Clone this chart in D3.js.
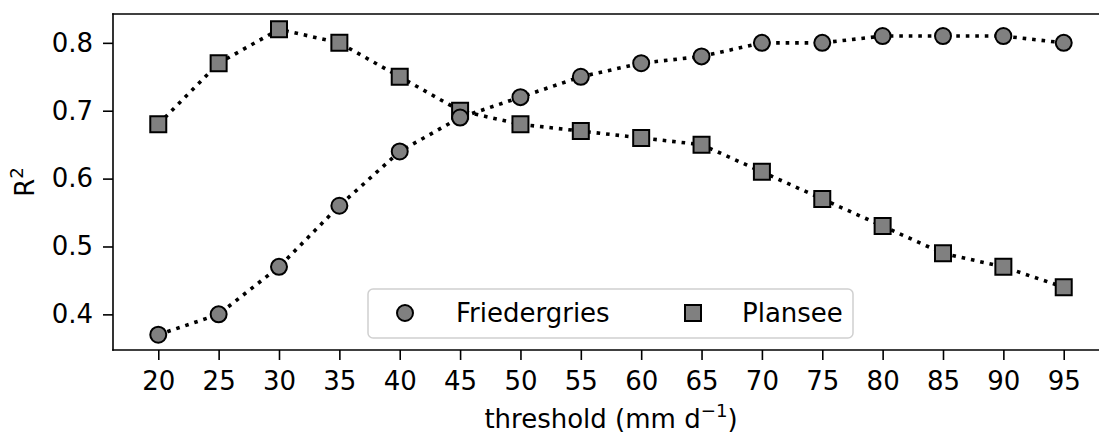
<!DOCTYPE html>
<html>
<head>
<meta charset="utf-8">
<script src="https://cdn.jsdelivr.net/npm/d3@7"></script>
<style>
  html, body { margin: 0; padding: 0; background: #fff; overflow: hidden; }
  svg { display: block; font-family: "DejaVu Sans", sans-serif; }
</style>
</head>
<body>
<svg id="chart" width="1099" height="433"></svg>
<script>
// Thresholds (mm/day) and R² for each station
const thresholds = [20, 25, 30, 35, 40, 45, 50, 55, 60, 65, 70, 75, 80, 85, 90, 95];
const friedergries = [0.37, 0.40, 0.47, 0.56, 0.64, 0.69, 0.72, 0.75, 0.77, 0.78, 0.80, 0.80, 0.81, 0.81, 0.81, 0.80];
const plansee = [0.68, 0.77, 0.82, 0.80, 0.75, 0.70, 0.68, 0.67, 0.66, 0.65, 0.61, 0.57, 0.53, 0.49, 0.47, 0.44];
const yTicks = [0.4, 0.5, 0.6, 0.7, 0.8];
const seriesNames = ["Friedergries", "Plansee"];

const svg = d3.select("#chart");
const fontSize = 26;
const plot = { left: 113, right: 1109, top: 14, bottom: 350 };

const x = d3.scaleLinear().domain([16.25, 98.75]).range([plot.left, plot.right]);
const y = d3.scaleLinear().domain([0.3475, 0.8425]).range([plot.bottom, plot.top]);

// Axes
const xAxis = d3.axisBottom(x).tickValues(thresholds).tickFormat(d3.format("d"))
  .tickSize(10).tickPadding(12);
const yAxis = d3.axisLeft(y).tickValues(yTicks).tickFormat(d3.format(".1f"))
  .tickSize(10).tickPadding(10);

const gx = svg.append("g").attr("transform", `translate(0,${plot.bottom})`).call(xAxis);
const gy = svg.append("g").attr("transform", `translate(${plot.left},0)`).call(yAxis);
[gx, gy].forEach(g => {
  g.select(".domain").remove();
  g.selectAll(".tick line").attr("stroke", "#000").attr("stroke-width", 1.6);
  g.selectAll(".tick text").attr("fill", "#000").attr("font-size", fontSize)
    .attr("font-family", "DejaVu Sans, sans-serif");
});

// Frame: left, top and bottom spines (right spine lies past the canvas edge)
const spines = [
  [plot.left, plot.top, plot.left, plot.bottom],
  [plot.left, plot.top, plot.right, plot.top],
  [plot.left, plot.bottom, plot.right, plot.bottom]
];
svg.append("g").selectAll("line").data(spines).join("line")
  .attr("x1", d => d[0]).attr("y1", d => d[1]).attr("x2", d => d[2]).attr("y2", d => d[3])
  .attr("stroke", "#000").attr("stroke-width", 1.6).attr("stroke-linecap", "square");

// Series
const line = d3.line().x(d => x(d[0])).y(d => y(d[1]));
const lineStyle = sel => sel.attr("fill", "none").attr("stroke", "#000")
  .attr("stroke-width", 3.6).attr("stroke-dasharray", "3.6,5.9");

function drawSeries(values, shape) {
  const pts = thresholds.map((t, i) => [t, values[i]]);
  svg.append("path").datum(pts).attr("d", line).call(lineStyle);
  const sym = d3.symbol().type(shape === "circle" ? d3.symbolCircle : d3.symbolSquare)
    .size(shape === "circle" ? Math.PI * 8 * 8 : 16 * 16);
  svg.append("g").selectAll("path").data(pts).join("path")
    .attr("transform", d => `translate(${x(d[0])},${y(d[1])})`)
    .attr("d", sym)
    .attr("fill", "#808080").attr("stroke", "#000").attr("stroke-width", 2);
}
drawSeries(plansee, "square");
drawSeries(friedergries, "circle");

// Legend
const legend = svg.append("g");
legend.append("rect")
  .attr("x", 368).attr("y", 289).attr("width", 485).attr("height", 49)
  .attr("rx", 5).attr("fill", "#fff").attr("fill-opacity", 0.8)
  .attr("stroke", "#d0d0d0").attr("stroke-width", 1.5);
const legendItems = [
  { name: seriesNames[0], shape: d3.symbolCircle, size: Math.PI * 8 * 8, mx: 405, tx: 456 },
  { name: seriesNames[1], shape: d3.symbolSquare, size: 16 * 16, mx: 693, tx: 742 }
];
legendItems.forEach(it => {
  legend.append("path")
    .attr("transform", `translate(${it.mx},313)`)
    .attr("d", d3.symbol().type(it.shape).size(it.size))
    .attr("fill", "#808080").attr("stroke", "#000").attr("stroke-width", 2);
  legend.append("text").attr("x", it.tx).attr("y", 313).attr("dy", "0.35em")
    .attr("font-size", fontSize).attr("fill", "#000").text(it.name);
});

// Axis labels
const xl = svg.append("text").attr("x", (plot.left + plot.right) / 2).attr("y", 428)
  .attr("text-anchor", "middle").attr("font-size", fontSize).attr("fill", "#000");
xl.append("tspan").text("threshold (mm d");
xl.append("tspan").attr("font-size", fontSize * 0.7).attr("dy", -11).text("\u22121");
xl.append("tspan").attr("dy", 11).text(")");

const yl = svg.append("text")
  .attr("transform", `translate(34,${(plot.top + plot.bottom) / 2}) rotate(-90)`)
  .attr("text-anchor", "middle").attr("font-size", fontSize).attr("fill", "#000");
yl.append("tspan").text("R");
yl.append("tspan").attr("font-size", fontSize * 0.7).attr("dy", -11).text("2");
</script>
</body>
</html>
